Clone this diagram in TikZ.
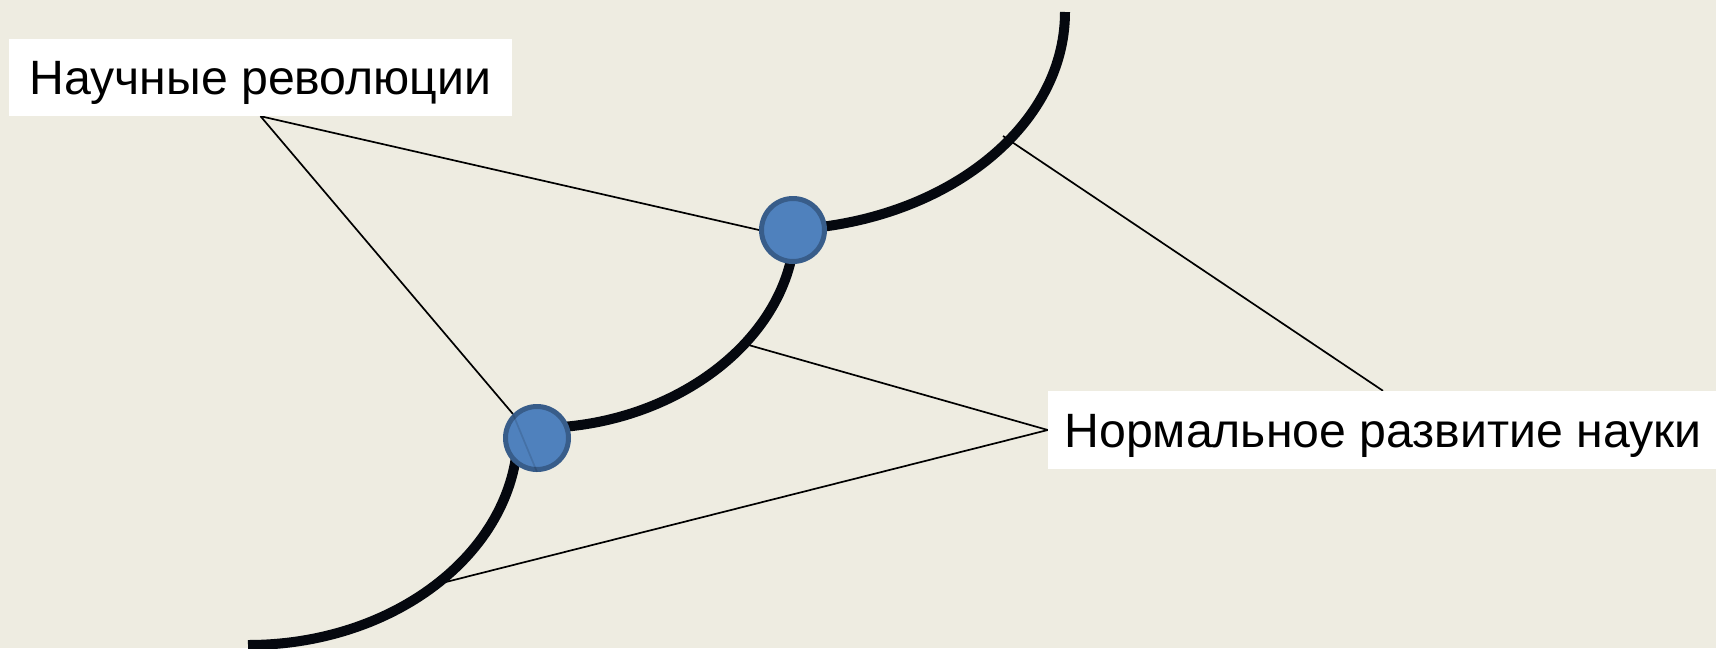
\documentclass[tikz,border=0pt]{standalone}
\usepackage{fontspec}
\setmainfont{Liberation Sans}
\definecolor{bgcol}{HTML}{EEECE1}
\definecolor{arcblack}{HTML}{05080F}
\definecolor{dotfill}{HTML}{4F81BD}
\definecolor{dotline}{HTML}{385D8A}
\pgfdeclarelayer{back}
\pgfdeclarelayer{mid}
\pgfsetlayers{back,mid,main}
\begin{document}
\begin{tikzpicture}[x=1pt,y=-1pt,
  thickarc/.style={line width=10pt, draw=arcblack},
  leader/.style={line width=1.7pt, draw=black},
  dot/.style={circle, fill=dotfill, draw=dotline, line width=5pt, minimum size=63pt, inner sep=0pt},
  lab/.style={fill=white, inner sep=0pt, text height=34.5pt, text depth=0pt, font=\fontsize{48.2}{58}\selectfont}]
\begin{pgfonlayer}{back}
  \fill[bgcol] (0,0) rectangle (1716,648);
\end{pgfonlayer}
\useasboundingbox (0,0) rectangle (1716,648);

\node[lab, minimum width=503pt, minimum height=77pt] (rev) at (260.5,77.5) {Научные революции};
\node[lab, minimum width=670pt, minimum height=78pt] (norm) at (1383,430) {Нормальное развитие науки};

\node[dot] (c1) at (793,230) {};
\node[dot] (c2) at (537,438) {};

\coordinate (topA) at (1065,12);
\coordinate (topB) at (772,230);
\coordinate (midA) at (795,225);
\coordinate (midB) at (537,428);
\coordinate (botA) at (518,431);
\coordinate (botB) at (248,645);
\coordinate (tA) at (1003,136);
\coordinate (tB) at (745,344);
\coordinate (tC) at (438,584);

\begin{pgfonlayer}{mid}
  \draw[leader] (rev.south) -- (c1.west);
  \draw[leader] (rev.south) -- (c2.north west);
  \draw[leader] (tA) -- (norm.north);
  \draw[leader] (tB) -- (norm.west);
  \draw[leader] (tC) -- (norm.west);
  \draw[thickarc] (topA) .. controls (1065,132.4) and (933.8,230) .. (topB);
  \draw[thickarc] (midA) .. controls (795,335) and (677,428) .. (midB);
  \draw[thickarc] (botA) .. controls (518,549.2) and (397.1,645) .. (botB);
\end{pgfonlayer}
\draw[leader, draw opacity=0.12] (c2.north west) -- (c2.south);
\end{tikzpicture}
\end{document}
